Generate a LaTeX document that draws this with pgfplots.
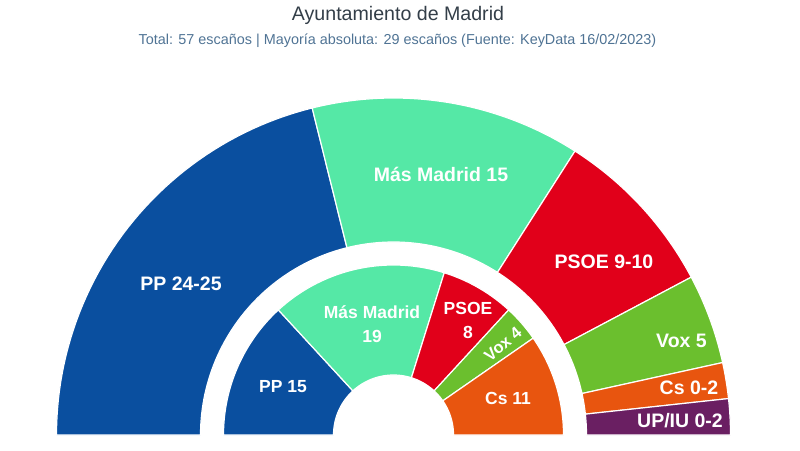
\documentclass[border=0pt]{standalone}
\usepackage{pgfplots}
\pgfplotsset{compat=1.18}
\usepackage{fontspec}
\setmainfont{Liberation Sans}

\definecolor{cPP}{HTML}{0A4F9F}
\definecolor{cMM}{HTML}{55E8A6}
\definecolor{cPSOE}{HTML}{E1001A}
\definecolor{cVox}{HTML}{6BBF2E}
\definecolor{cCs}{HTML}{E8550F}
\definecolor{cUP}{HTML}{6A1F62}
\definecolor{ctitle}{HTML}{333E48}
\definecolor{csub}{HTML}{4F7394}

% one ring sector: colour, start angle, end angle, inner r, outer r
\newcommand\seg[5]{%
  \edef\temp{\noexpand\addplot[draw=white, line width=1.2pt, fill=#1,
      domain=0:3, samples=151, variable=\noexpand\t]
    ({(#5-(#5-#4)*min(max(\noexpand\t-1,0),1))*cos(#2+(#3-#2)*(min(\noexpand\t,1)-max(\noexpand\t-2,0)))},
     {(#5-(#5-#4)*min(max(\noexpand\t-1,0),1))*sin(#2+(#3-#2)*(min(\noexpand\t,1)-max(\noexpand\t-2,0)))}) -- cycle;}%
  \temp}

% party: colour, seats (uses \cum, \tot, \rin, \rout)
\newcommand\party[2]{%
  \pgfmathsetmacro\A{180-180*\cum/\tot}%
  \pgfmathsetmacro\B{180-180*(\cum+#2)/\tot}%
  \seg{#1}{\A}{\B}{\rin}{\rout}%
  \pgfmathsetmacro\newcum{\cum+#2}%
  \xdef\cum{\newcum}}

\begin{document}
\begin{tikzpicture}
\begin{axis}[
    x=1pt, y=1pt,
    xmin=-393.5, xmax=406.5, ymin=-15, ymax=435,
    hide axis, clip=false,
  ]
  \path (axis cs:-393.5,-15) rectangle (axis cs:406.5,435);

  % outer ring: KeyData 16/02/2023 (midpoints of ranges)
  \def\tot{58}\def\rin{193}\def\rout{337}\gdef\cum{0}
  \party{cPP}{24.5}
  \party{cMM}{15}
  \party{cPSOE}{9.5}
  \party{cVox}{5}
  \party{cCs}{2}
  \party{cUP}{2}

  % inner ring: 2019 result
  \def\tot{57}\def\rin{60}\def\rout{170}\gdef\cum{0}
  \party{cPP}{15}
  \party{cMM}{19}
  \party{cPSOE}{8}
  \party{cVox}{4}
  \party{cCs}{11}

  \begin{scope}[every node/.style={text=white, inner sep=1pt, font=\fontsize{19.5}{22}\selectfont\bfseries}]
    \node at (axis cs:-212.5,151) {PP 24-25};
    \node at (axis cs:47.5,261) {Más Madrid 15};
    \node at (axis cs:210.5,173) {PSOE 9-10};
    \node at (axis cs:288,94) {Vox 5};
    \node at (axis cs:295.5,47) {Cs 0-2};
    \node at (axis cs:286.5,14) {UP/IU 0-2};
  \end{scope}
  \begin{scope}[every node/.style={text=white, inner sep=1pt, align=center, font=\fontsize{17.5}{24}\selectfont\bfseries}]
    \node at (axis cs:-110.5,48) {PP 15};
    \node at (axis cs:-21.5,111) {Más Madrid\\19};
    \node at (axis cs:74.5,115) {PSOE\\8};
    \node[rotate=40, inner sep=0pt, font=\fontsize{16.5}{20}\selectfont\bfseries] at (axis cs:109.5,91) {Vox 4};
    \node at (axis cs:114.5,37) {Cs 11};
  \end{scope}

  \node[text=ctitle, font=\fontsize{19.6}{22}\selectfont] at (axis cs:4.5,420) {Ayuntamiento de Madrid};
  \node[text=csub, font=\fontsize{14.4}{16}\selectfont] at (axis cs:4,394)
    {Total: 57 escaños | Mayoría absoluta: 29 escaños (Fuente: KeyData 16/02/2023)};
\end{axis}
\end{tikzpicture}
\end{document}
